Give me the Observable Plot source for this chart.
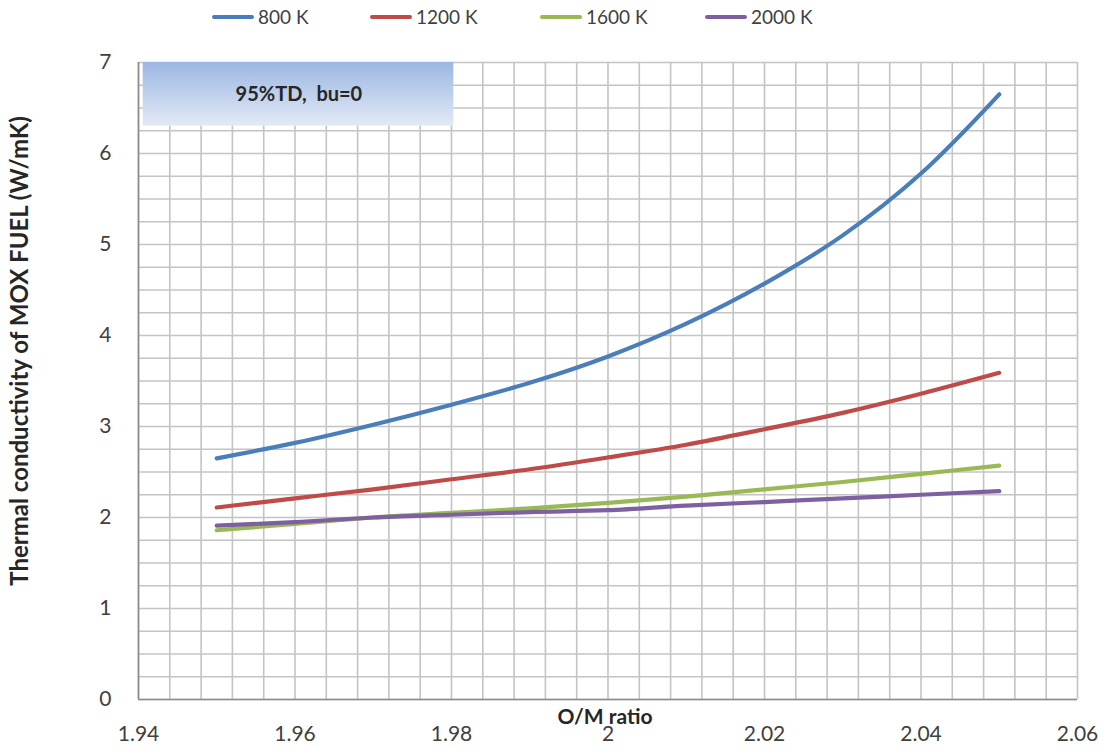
<!DOCTYPE html>
<html>
<head>
<meta charset="utf-8">
<script src="https://cdn.jsdelivr.net/npm/d3@7"></script>
<script src="https://cdn.jsdelivr.net/npm/@observablehq/plot@0.6"></script>
<style>
  body { margin: 0; background: #fff; font-family: Lato, "Open Sans", sans-serif; }
  #wrap { position: relative; width: 1108px; height: 749px; }
  #legend { position: relative; height: 35px; }
  .item { position: absolute; top: 5px; display: flex; align-items: center; font-size: 19px; color: #404040; }
  .sw { width: 42px; height: 4px; border-radius: 2px; margin-right: 4px; }
</style>
</head>
<body>
<div id="wrap">
  <div id="legend"></div>
  <div id="chart"></div>
</div>
<script>
const omRatio = [1.95, 1.96, 1.97, 1.98, 1.99, 2.00, 2.01, 2.02, 2.03, 2.04, 2.05];
const k800  = [2.65, 2.82, 3.02, 3.24, 3.48, 3.77, 4.13, 4.57, 5.10, 5.78, 6.65];
const k1200 = [2.11, 2.21, 2.31, 2.42, 2.53, 2.66, 2.80, 2.97, 3.15, 3.36, 3.59];
const k1600 = [1.86, 1.93, 2.00, 2.05, 2.10, 2.16, 2.23, 2.31, 2.39, 2.48, 2.57];
const k2000 = [1.91, 1.95, 2.00, 2.03, 2.06, 2.08, 2.13, 2.17, 2.21, 2.25, 2.29];
const seriesNames = ["800 K", "1200 K", "1600 K", "2000 K"];
const seriesColors = ["#4a7ebb", "#be4b48", "#98b954", "#7d60a0"];
const xTicks = [1.94, 1.96, 1.98, 2.00, 2.02, 2.04, 2.06];
const yTicks = [0, 1, 2, 3, 4, 5, 6, 7];
const insetLabel = "95%TD,\u00a0 bu=0";
const xTitle = "O/M ratio";
const yTitle = "Thermal conductivity of MOX FUEL (W/mK)";

const allSeries = [k800, k1200, k1600, k2000];
const data = [];
allSeries.forEach((vals, i) => vals.forEach((v, j) => data.push({x: omRatio[j], y: v, s: seriesNames[i]})));

// legend
const legendPos = [212, 370, 540, 705];
const leg = document.getElementById("legend");
seriesNames.forEach((n, i) => {
  const d = document.createElement("div");
  d.className = "item";
  d.style.left = legendPos[i] + "px";
  d.innerHTML = `<span class="sw" style="background:${seriesColors[i]}"></span><span>${n}</span>`;
  leg.appendChild(d);
});

const minorX = d3.range(0, 31).map(i => 1.94 + i * 0.004);
const minorY = d3.range(0, 29).map(i => i * 0.25);
const fmtX = d => d3.format("~g")(+(+d).toFixed(2));

const chart = Plot.plot({
  width: 1108,
  height: 714,
  marginLeft: 138,
  marginRight: 31,
  marginTop: 27,
  marginBottom: 50,
  style: {fontFamily: "Lato, 'Open Sans', sans-serif", fontSize: "21px", color: "#404040", background: "#fff"},
  x: {domain: [1.94, 2.06], label: null},
  y: {domain: [0, 7], label: null},
  color: {domain: seriesNames, range: seriesColors},
  marks: [
    Plot.ruleX(minorX, {stroke: "#c4c4c4", strokeWidth: 1.6}),
    Plot.ruleY(minorY, {stroke: "#c4c4c4", strokeWidth: 1.6}),
    Plot.ruleX([1.94], {stroke: "#8c8c8c", strokeWidth: 1.6}),
    Plot.ruleY([0], {stroke: "#8c8c8c", strokeWidth: 1.6}),
    Plot.rect([{x1: 1.9406, x2: 1.9803, y1: 6.3, y2: 7}], {x1: "x1", x2: "x2", y1: "y1", y2: "y2", fill: "url(#insetGrad)"}),
    Plot.text([insetLabel], {x: 1.9605, y: 6.65, text: d => d, fontWeight: "bold", fontSize: 20, fill: "#262626"}),
    Plot.line(data, {x: "x", y: "y", z: "s", stroke: "s", strokeWidth: 4.2, curve: "catmull-rom", strokeLinecap: "round"}),
    Plot.axisX({ticks: xTicks, tickSize: 0, tickPadding: 27, tickFormat: fmtX, fill: "#404040", fontSize: 21}),
    Plot.axisY({ticks: yTicks, tickSize: 0, tickPadding: 27, tickFormat: "d", fill: "#404040", fontSize: 21}),
    Plot.text([xTitle], {x: 2.0, y: 0, dy: 18, text: d => d, fontWeight: "bold", fontSize: 21, fill: "#262626", dx: -3}),
    Plot.text([yTitle], {x: 1.94, y: 3.83, dx: -118, text: d => d, rotate: -90, fontWeight: "bold", fontSize: 24, fill: "#262626"})
  ]
});

const svg = d3.select(chart);
const defs = svg.insert("defs", ":first-child");
const g = defs.append("linearGradient").attr("id", "insetGrad").attr("x1", 0).attr("y1", 0).attr("x2", 0).attr("y2", 1);
g.append("stop").attr("offset", "0%").attr("stop-color", "#9bb6e2");
g.append("stop").attr("offset", "100%").attr("stop-color", "#e3eaf6");
document.getElementById("chart").appendChild(chart);
</script>
</body>
</html>
